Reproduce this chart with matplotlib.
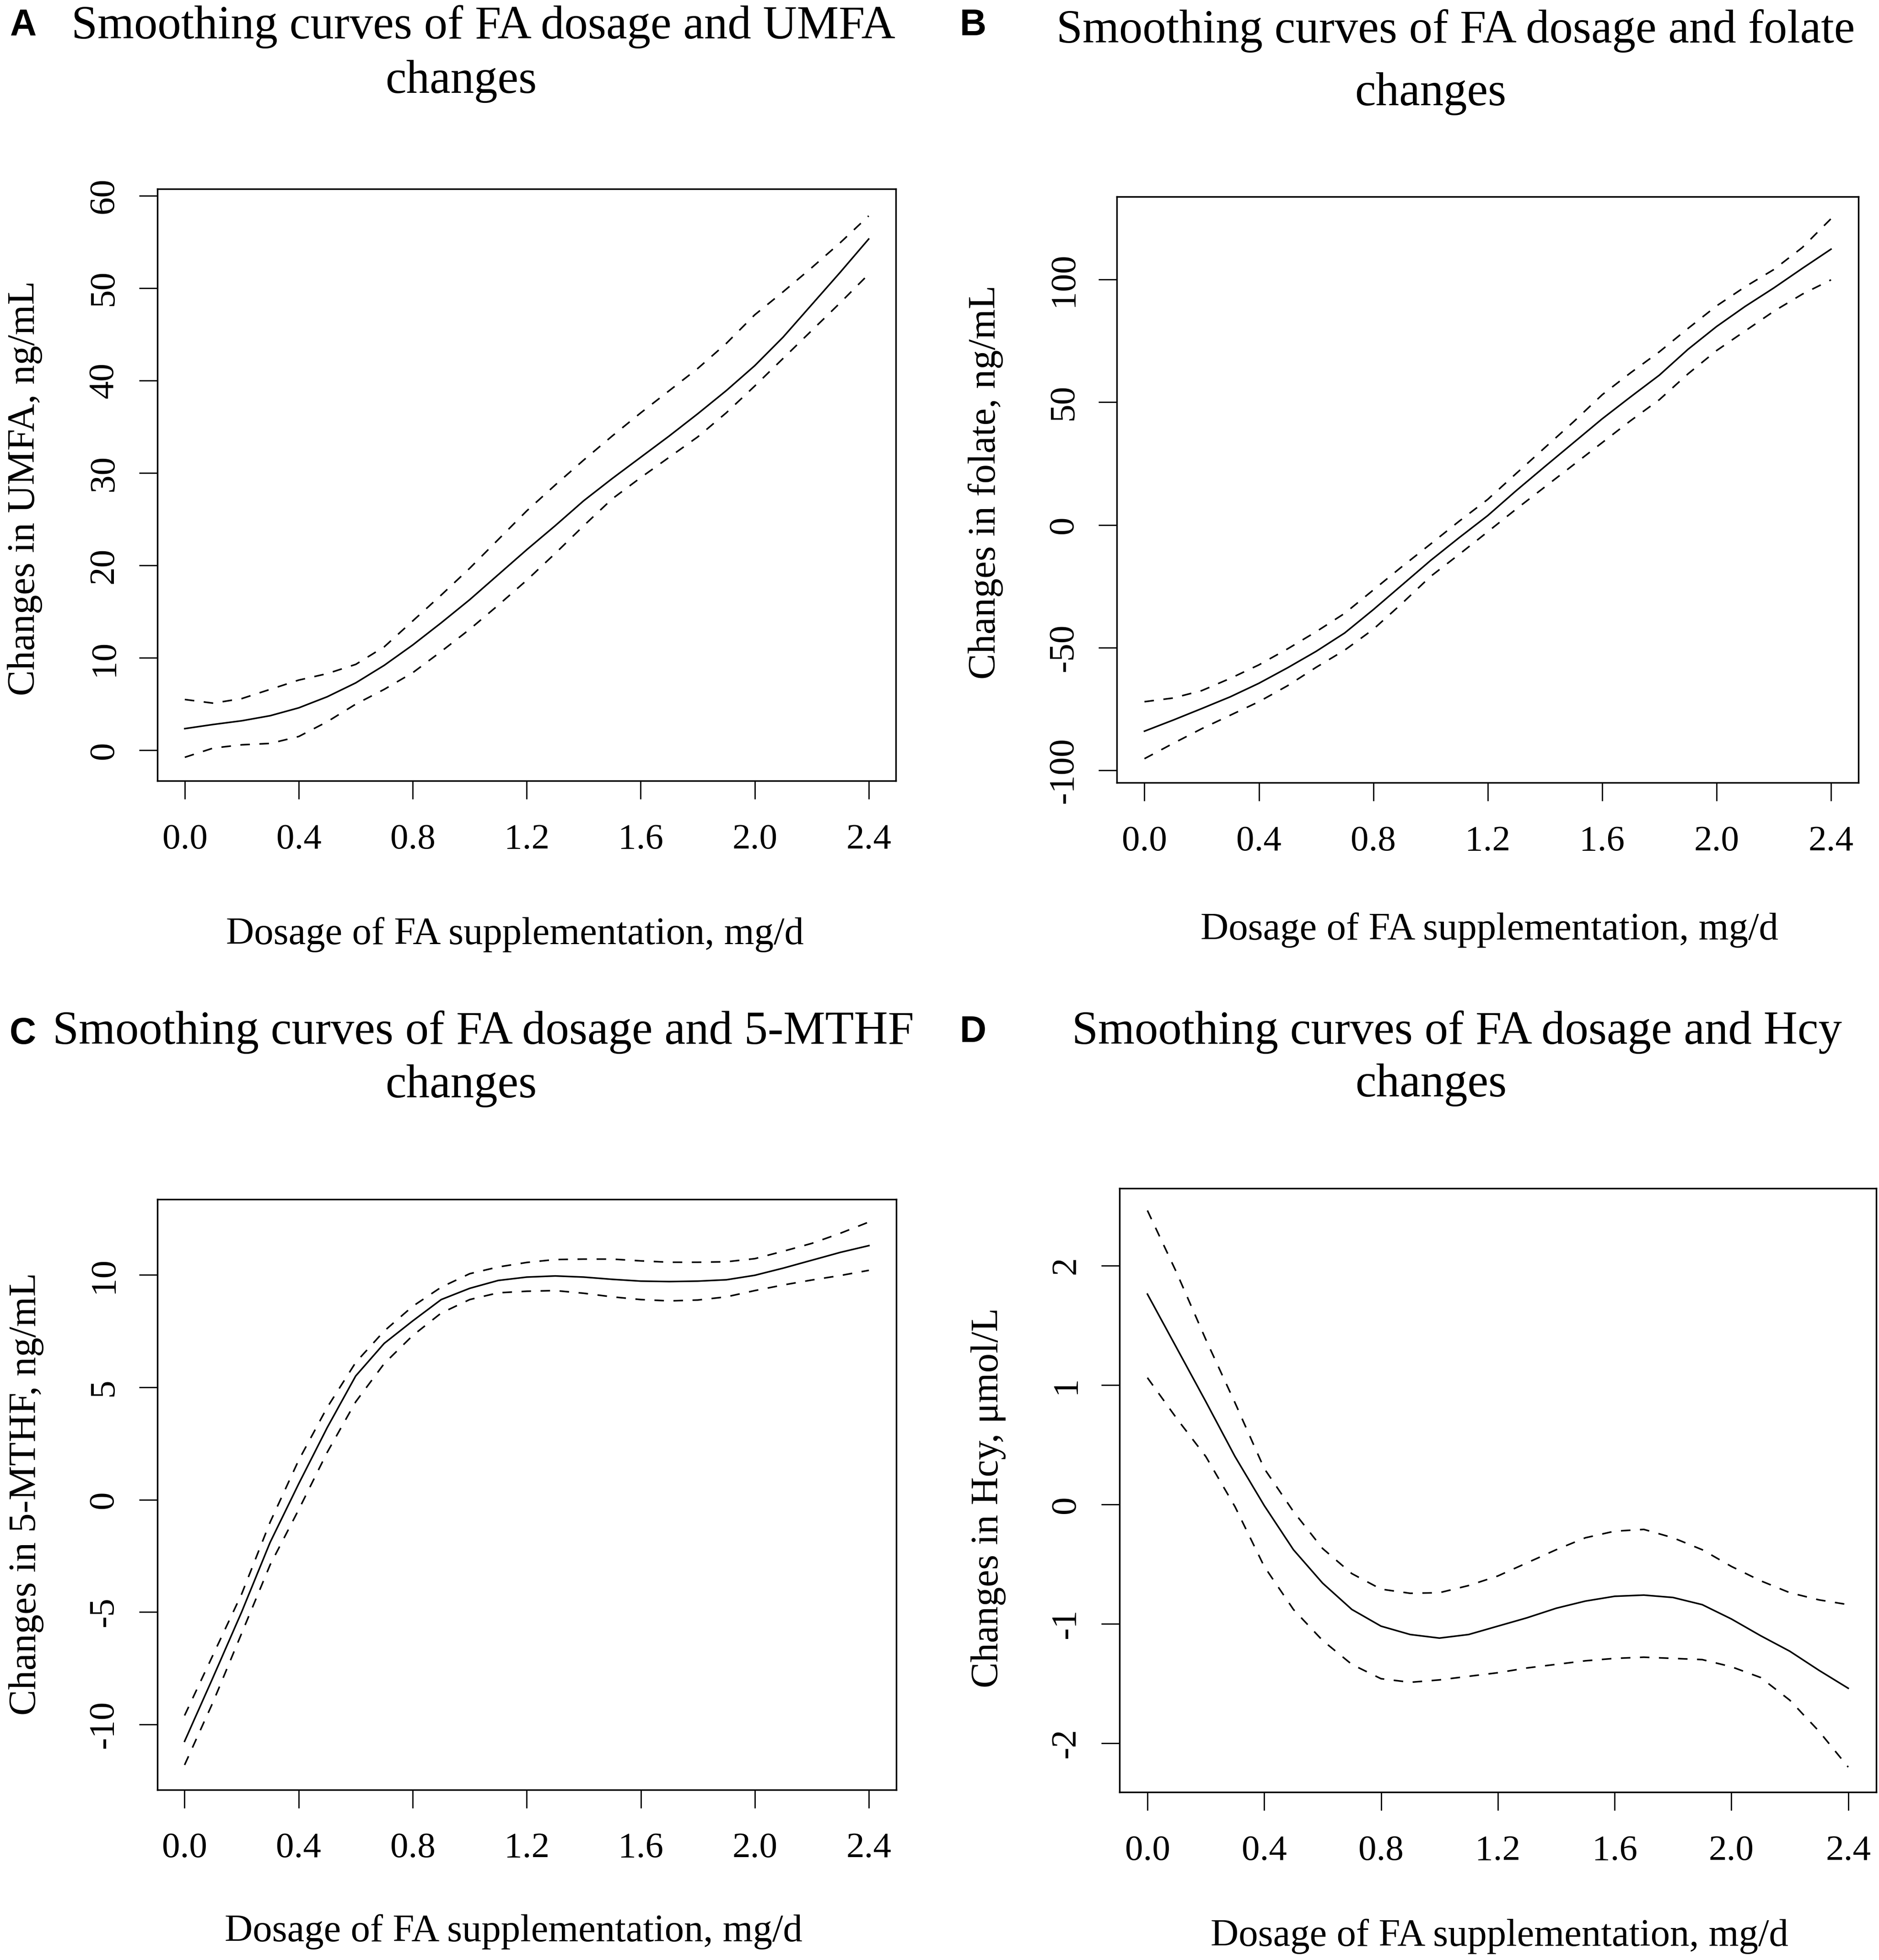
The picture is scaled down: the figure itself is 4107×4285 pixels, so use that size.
import matplotlib
matplotlib.use("Agg")
import matplotlib.pyplot as plt

# FA dosage grid (mg/d) on which the smoothing curves were read
dose = [0.0, 0.1, 0.2, 0.3, 0.4, 0.5, 0.6, 0.7, 0.8, 0.9, 1.0, 1.1, 1.2,
        1.3, 1.4, 1.5, 1.6, 1.7, 1.8, 1.9, 2.0, 2.1, 2.2, 2.3, 2.4]

# A - UMFA changes, ng/mL
umfa_fit = [2.35, 2.8, 3.2, 3.75, 4.6, 5.8, 7.3, 9.2, 11.4, 13.8, 16.3, 19.0, 21.7,
            24.3, 27.0, 29.4, 31.7, 34.0, 36.4, 38.9, 41.6, 44.7, 48.2, 51.7, 55.3]
umfa_upper = [5.5, 5.1, 5.6, 6.6, 7.6, 8.3, 9.3, 11.2, 14.0, 16.8, 19.7, 22.8, 25.9,
              28.7, 31.4, 34.0, 36.5, 38.9, 41.3, 44.0, 47.1, 49.6, 52.2, 54.9, 57.8]
umfa_lower = [-0.75, 0.25, 0.6, 0.75, 1.5, 3.1, 5.0, 6.6, 8.4, 10.7, 13.1, 15.7, 18.4,
              21.3, 24.3, 27.2, 29.5, 31.7, 33.9, 36.5, 39.4, 42.4, 45.4, 48.4, 51.5]

# B - folate changes, ng/mL
folate_fit = [-84, -79.5, -74.8, -70, -64.5, -58.2, -51.5, -44, -34.5, -24.5, -14.5, -5.2, 3.8,
              14, 23.8, 33.5, 43.2, 52.2, 61, 71.5, 80.8, 89, 96.5, 104.5, 112.3]
folate_upper = [-72, -70.5, -67.5, -62.5, -57, -50.5, -43.5, -36, -26.5, -17, -7.8, 1.5, 10.4,
                21, 31.5, 42, 53, 62, 70.5, 80, 89.2, 97, 104, 113, 124.7]
folate_lower = [-95.2, -89, -83, -77.5, -72, -65.5, -58, -51, -42.5, -32, -21, -12, -2.8,
                6.5, 15.5, 24.5, 33.5, 42.5, 51, 61.5, 71, 79, 87, 94, 99.8]

# C - 5-MTHF changes, ng/mL
mthf_fit = [-10.75, -7.9, -5.0, -1.9, 0.7, 3.2, 5.5, 6.95, 7.95, 8.9, 9.4, 9.75, 9.9,
            9.95, 9.9, 9.8, 9.72, 9.7, 9.72, 9.78, 9.98, 10.3, 10.65, 11.0, 11.3]
mthf_upper = [-9.6, -6.9, -4.2, -1.0, 1.75, 4.1, 6.1, 7.5, 8.6, 9.45, 10.05, 10.35, 10.55,
              10.68, 10.7, 10.7, 10.62, 10.56, 10.56, 10.58, 10.72, 11.05, 11.4, 11.85, 12.35]
mthf_lower = [-11.8, -9.0, -5.95, -2.9, -0.45, 2.1, 4.35, 6.05, 7.3, 8.3, 8.9, 9.2, 9.27,
              9.3, 9.18, 9.02, 8.9, 8.84, 8.88, 9.02, 9.3, 9.55, 9.77, 9.97, 10.2]

# D - Hcy changes, umol/L
hcy_fit = [1.76, 1.31, 0.86, 0.40, -0.01, -0.38, -0.66, -0.88, -1.02, -1.09, -1.12, -1.09, -1.02,
           -0.95, -0.87, -0.81, -0.77, -0.76, -0.78, -0.84, -0.96, -1.1, -1.23, -1.39, -1.54]
hcy_upper = [2.46, 1.94, 1.38, 0.85, 0.30, -0.06, -0.37, -0.58, -0.71, -0.745, -0.74, -0.68, -0.6,
             -0.49, -0.38, -0.28, -0.225, -0.21, -0.28, -0.38, -0.52, -0.64, -0.74, -0.8, -0.84]
hcy_lower = [1.06, 0.72, 0.4, -0.02, -0.52, -0.88, -1.14, -1.34, -1.46, -1.49, -1.47, -1.44, -1.41,
             -1.37, -1.34, -1.31, -1.29, -1.28, -1.29, -1.3, -1.36, -1.45, -1.64, -1.9, -2.2]

x_ticks = [0.0, 0.4, 0.8, 1.2, 1.6, 2.0, 2.4]
x_tick_labels = ["0.0", "0.4", "0.8", "1.2", "1.6", "2.0", "2.4"]
umfa_ticks = [0, 10, 20, 30, 40, 50, 60]
folate_ticks = [-100, -50, 0, 50, 100]
mthf_ticks = [-10, -5, 0, 5, 10]
hcy_ticks = [-2, -1, 0, 1, 2]

letters = ["A", "B", "C", "D"]
titles = ["Smoothing curves of FA dosage and UMFA",
          "Smoothing curves of FA dosage and folate",
          "Smoothing curves of FA dosage and 5-MTHF",
          "Smoothing curves of FA dosage and Hcy"]
ylabels = ["Changes in UMFA, ng/mL", "Changes in folate, ng/mL",
           "Changes in 5-MTHF, ng/mL", "Changes in Hcy, \u03bcmol/L"]
xlabel = "Dosage of FA supplementation, mg/d"

plt.rcParams['font.family'] = ['Liberation Serif', 'DejaVu Serif']

# layout measured on a 1500 x 1565 grid of the figure
W0, H0 = 1500.0, 1565.0


def fx(px):
    return px / W0


def fy(py):
    return 1.0 - py / H0


panels = [
    dict(fit=umfa_fit, upper=umfa_upper, lower=umfa_lower, yticks=umfa_ticks,
         box=(125.7, 151, 715.3, 623.5), ylim=(-3.3, 60.7),
         letter=(18.7, 28), t1=(386, 30.7), t2=(368, 74), xl=(411, 754), yl=(20, 390)),
    dict(fit=folate_fit, upper=folate_upper, lower=folate_lower, yticks=folate_ticks,
         box=(891.7, 157, 1483.6, 625), ylim=(-105, 133.7),
         letter=(776.6, 28), t1=(1162, 34), t2=(1142, 84), xl=(1189, 750), yl=(787, 385)),
    dict(fit=mthf_fit, upper=mthf_upper, lower=mthf_lower, yticks=mthf_ticks,
         box=(125.5, 957.6, 715.5, 1429), ylim=(-12.9, 13.36),
         letter=(18, 833.5), t1=(386, 833.5), t2=(368, 876), xl=(410, 1550), yl=(21, 1193)),
    dict(fit=hcy_fit, upper=hcy_upper, lower=hcy_lower, yticks=hcy_ticks,
         box=(893.6, 949, 1497.8, 1431), ylim=(-2.41, 2.644),
         letter=(776.6, 832), t1=(1163, 833.5), t2=(1142.5, 875.5), xl=(1197, 1553.5), yl=(789, 1196)),
]

fig = plt.figure(figsize=(41.07, 42.85), dpi=100)

for i, p in enumerate(panels):
    l, t, r, b = p["box"]
    ax = fig.add_axes([fx(l), fy(b), (r - l) / W0, (b - t) / H0])

    ax.plot(dose, p["fit"], color="black", lw=2.5)
    ax.plot(dose, p["upper"], color="black", lw=2.5, linestyle=(0, (6, 6)))
    ax.plot(dose, p["lower"], color="black", lw=2.5, linestyle=(0, (6, 6)))

    ax.set_xlim(-0.096, 2.496)
    ax.set_ylim(*p["ylim"])
    ax.set_xticks(x_ticks)
    ax.set_xticklabels(x_tick_labels)
    ax.set_yticks(p["yticks"])
    ax.set_yticklabels([str(v) for v in p["yticks"]])

    for s in ax.spines.values():
        s.set_linewidth(2.5)
    ax.tick_params(axis="both", direction="out", length=29, width=2, labelsize=57)
    ax.tick_params(axis="x", pad=38)
    ax.tick_params(axis="y", pad=29)
    for lab in ax.get_yticklabels():
        lab.set_rotation(90)
        lab.set_va("center")
        lab.set_ha("right")

    lx, ly = p["letter"]
    fig.text(fx(lx), fy(ly), letters[i], ha="center", va="baseline",
             fontsize=58, fontweight="bold", family=["Liberation Sans", "DejaVu Sans"])
    fig.text(fx(p["t1"][0]), fy(p["t1"][1]), titles[i], ha="center", va="baseline", fontsize=74)
    fig.text(fx(p["t2"][0]), fy(p["t2"][1]), "changes", ha="center", va="baseline", fontsize=74)
    fig.text(fx(p["xl"][0]), fy(p["xl"][1]), xlabel, ha="center", va="baseline", fontsize=61)
    fig.text(fx(p["yl"][0]), fy(p["yl"][1]), ylabels[i], ha="center", va="center",
             rotation=90, fontsize=61)

fig.savefig("out.png", dpi=100, facecolor="white")
